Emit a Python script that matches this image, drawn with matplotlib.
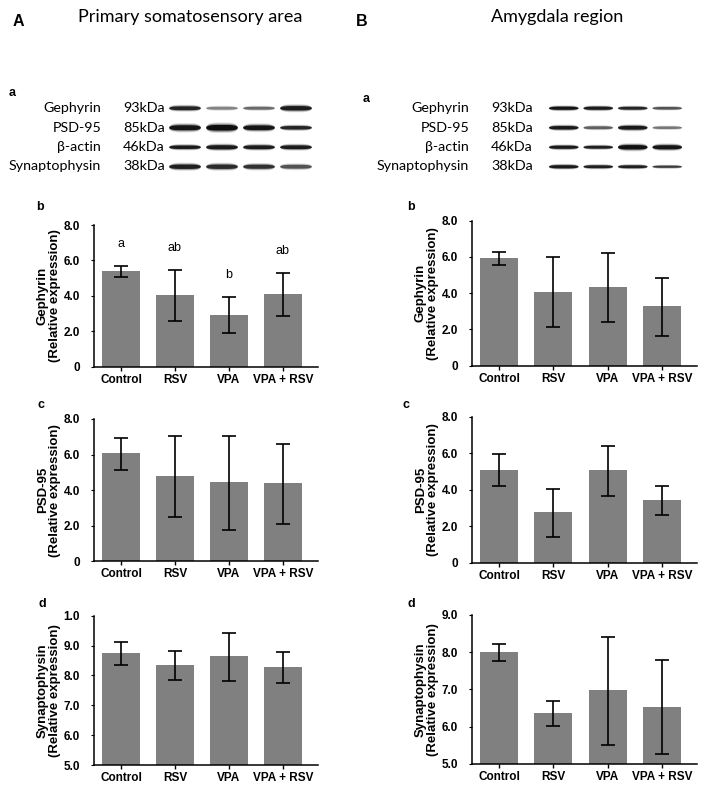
import numpy as np
import matplotlib
matplotlib.use("Agg")
import matplotlib.pyplot as plt

# ---- data ----
groups = ["Control", "RSV", "VPA", "VPA + RSV"]

# Primary somatosensory area
som_geph = [5.42, 4.03, 2.92, 4.09]
som_geph_lo = [5.05, 2.56, 1.88, 2.87]
som_geph_hi = [5.69, 5.46, 3.91, 5.27]
som_geph_letters = ["a", "ab", "b", "ab"]

som_psd = [6.08, 4.79, 4.46, 4.38]
som_psd_lo = [5.13, 2.47, 1.78, 2.09]
som_psd_hi = [6.93, 7.03, 7.06, 6.61]

som_syn = [8.74, 8.34, 8.64, 8.28]
som_syn_lo = [8.34, 7.85, 7.82, 7.76]
som_syn_hi = [9.11, 8.81, 9.41, 8.78]

# Amygdala region
amy_geph = [5.94, 4.09, 4.36, 3.28]
amy_geph_lo = [5.53, 2.15, 2.41, 1.65]
amy_geph_hi = [6.30, 5.98, 6.23, 4.83]

amy_psd = [5.10, 2.77, 5.07, 3.43]
amy_psd_lo = [4.22, 1.42, 3.66, 2.61]
amy_psd_hi = [5.93, 4.05, 6.41, 4.18]

amy_syn = [8.01, 6.36, 6.98, 6.54]
amy_syn_lo = [7.77, 6.01, 5.52, 5.28]
amy_syn_hi = [8.22, 6.68, 8.40, 7.78]

# western blot: protein names, sizes, band darkness and thickness per lane
blot_proteins = ["Gephyrin", "PSD-95", "\u03b2-actin", "Synaptophysin"]
blot_kda = ["93kDa", "85kDa", "46kDa", "38kDa"]
som_blot = [[0.85, 0.40, 0.50, 0.90],
            [0.95, 1.00, 0.95, 0.85],
            [0.92, 0.92, 0.90, 0.90],
            [0.88, 0.82, 0.78, 0.60]]
som_thick = [[0.12, 0.09, 0.09, 0.14],
             [0.16, 0.18, 0.15, 0.11],
             [0.11, 0.13, 0.12, 0.12],
             [0.14, 0.14, 0.13, 0.12]]
amy_blot = [[0.95, 0.90, 0.85, 0.60],
            [0.92, 0.55, 0.92, 0.45],
            [0.92, 0.88, 0.97, 0.95],
            [0.92, 0.88, 0.88, 0.72]]
amy_thick = [[0.10, 0.10, 0.09, 0.08],
             [0.11, 0.09, 0.12, 0.08],
             [0.10, 0.09, 0.14, 0.13],
             [0.10, 0.09, 0.09, 0.07]]

W, H = 708, 792
fig = plt.figure(figsize=(W / 100, H / 100), dpi=100)

BAR = "#808080"
TICKFONT = "Liberation Sans"
LABFONT = "Lato"


def add_ax(l, t, r, b):
    return fig.add_axes([l / W, 1 - b / H, (r - l) / W, (b - t) / H])


def ftext(x, y, s, **kw):
    fig.text(x / W, 1 - y / H, s, **kw)


def bar_panel(rect, vals, lo, hi, ylab, ylim, ticks, ticklabels, letters=None):
    ax = add_ax(*rect)
    x = np.arange(len(groups))
    vals = np.array(vals)
    yerr = [vals - np.array(lo), np.array(hi) - vals]
    ax.bar(x, vals, width=0.7, color=BAR, zorder=1)
    ax.errorbar(x, vals, yerr=yerr, fmt="none", ecolor="black",
                elinewidth=1.2, capsize=5, capthick=1.2, zorder=2)
    ax.set_xlim(-0.5, 3.65)
    ax.set_ylim(*ylim)
    ax.set_yticks(ticks)
    ax.set_yticklabels(ticklabels)
    ax.set_xticks(x)
    ax.set_xticklabels(groups)
    for s in ["top", "right"]:
        ax.spines[s].set_visible(False)
    for s in ["left", "bottom"]:
        ax.spines[s].set_linewidth(1.1)
    ax.tick_params(axis="x", length=3, width=1.0, pad=2)
    ax.tick_params(axis="y", length=2, width=0.8, pad=8)
    for lab in ax.get_xticklabels() + ax.get_yticklabels():
        lab.set_fontfamily(TICKFONT)
        lab.set_fontweight("bold")
        lab.set_fontsize(8.5)
    ax.set_ylabel(ylab, fontfamily=TICKFONT, fontweight="bold",
                  fontsize=9.5, linespacing=1.0, labelpad=2)
    if letters is not None:
        for xi, h, s in zip(x, hi, letters):
            ax.text(xi, h + 1.25, s, ha="center", va="center",
                    fontfamily=TICKFONT, fontsize=9)
    return ax


def blot(rect, dark, thick):
    ax = add_ax(*rect)
    ax.set_xlim(-0.5, 3.5)
    ax.set_ylim(3.5, -0.5)
    ax.axis("off")
    for i, row in enumerate(dark):
        for j, d in enumerate(row):
            t = thick[i][j]
            xs = np.linspace(j - 0.43, j + 0.43, 60)
            prof = np.sqrt(np.clip(1 - ((xs - j) / 0.43) ** 4, 0, 1))
            for k, a in [(1.5, 0.15), (1.15, 0.35), (0.8, 0.9)]:
                ax.fill_between(xs, i - t * k * prof, i + t * k * prof,
                                color="black", alpha=a * d, lw=0)
    return ax


# titles
ftext(18, 22, "A", fontfamily=TICKFONT, fontweight="bold", fontsize=11.5,
      ha="center", va="center")
ftext(362, 22, "B", fontfamily=TICKFONT, fontweight="bold", fontsize=11.5,
      ha="center", va="center")
ftext(190, 17, "Primary somatosensory area", fontfamily=LABFONT,
      fontsize=13, ha="center", va="center")
ftext(557, 17, "Amygdala region", fontfamily=LABFONT,
      fontsize=13, ha="center", va="center")

# panel a: blots
ftext(12, 93, "a", fontfamily=TICKFONT, fontweight="bold", fontsize=9,
      ha="center", va="center")
ftext(366, 99, "a", fontfamily=TICKFONT, fontweight="bold", fontsize=9,
      ha="center", va="center")
rows_y = [108, 128, 147, 166]
for y, p, k in zip(rows_y, blot_proteins, blot_kda):
    ftext(101, y, p, fontfamily=LABFONT, fontsize=10.3, ha="right", va="center")
    ftext(123, y, k, fontfamily=LABFONT, fontsize=10.3, ha="left", va="center")
    ftext(469, y, p, fontfamily=LABFONT, fontsize=10.3, ha="right", va="center")
    ftext(491, y, k, fontfamily=LABFONT, fontsize=10.3, ha="left", va="center")
blot((166, 98, 314, 176), som_blot, som_thick)
blot((546, 98, 684, 176), amy_blot, amy_thick)

# bar panels
y8 = [0, 2, 4, 6, 8]
y8l = ["0", "2.0", "4.0", "6.0", "8.0"]
L = (94, 318)
R = (472, 697)

bar_panel((L[0], 225, L[1], 366.7), som_geph, som_geph_lo, som_geph_hi,
          "Gephyrin\n(Relative expression)", (0, 8), y8, y8l, som_geph_letters)
bar_panel((R[0], 220.7, R[1], 365.7), amy_geph, amy_geph_lo, amy_geph_hi,
          "Gephyrin\n(Relative expression)", (0, 8), y8, y8l)
bar_panel((L[0], 419, L[1], 561.3), som_psd, som_psd_lo, som_psd_hi,
          "PSD-95\n(Relative expression)", (0, 8), y8, y8l)
bar_panel((R[0], 416.7, R[1], 562.7), amy_psd, amy_psd_lo, amy_psd_hi,
          "PSD-95\n(Relative expression)", (0, 8), y8, y8l)
bar_panel((L[0], 615.7, L[1], 765), som_syn, som_syn_lo, som_syn_hi,
          "Synaptophysin\n(Relative expression)", (5, 10), [5, 6, 7, 8, 9, 10],
          ["5.0", "6.0", "7.0", "8.0", "9.0", "1.0"])
bar_panel((R[0], 614.7, R[1], 764), amy_syn, amy_syn_lo, amy_syn_hi,
          "Synaptophysin\n(Relative expression)", (5, 9), [5, 6, 7, 8, 9],
          ["5.0", "6.0", "7.0", "8.0", "9.0"])

# panel letters
for x, y, s in [(40, 207, "b"), (411, 207, "b"), (41, 405, "c"),
                (406, 405, "c"), (42, 604, "d"), (411, 604, "d")]:
    ftext(x, y, s, fontfamily=TICKFONT, fontweight="bold", fontsize=9,
          ha="center", va="center")

fig.savefig("out.png", dpi=100)
